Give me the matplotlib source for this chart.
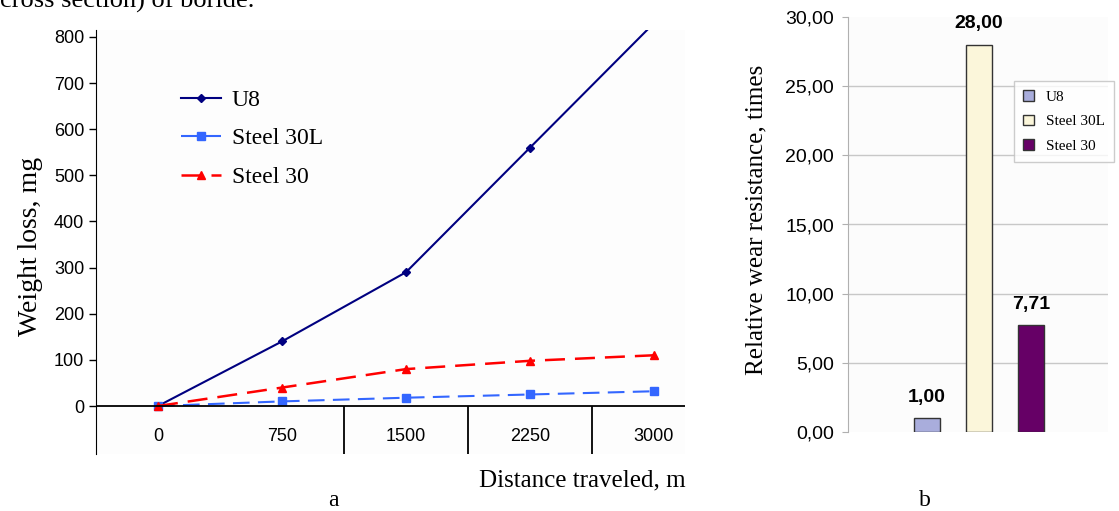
import numpy as np
import matplotlib
matplotlib.use("Agg")
import matplotlib.pyplot as plt

# ---- data ----
distance = ["0", "750", "1500", "2250", "3000"]
u8 = [0, 140, 290, 560, 830]
steel_30l = [0, 10, 18, 25, 32]
steel_30 = [0, 40, 80, 98, 110]

materials = ["U8", "Steel 30L", "Steel 30"]
resistance = [1.00, 28.00, 7.71]
bar_colors = ["#A9ADDC", "#FBF6DA", "#660066"]

SERIF = "Liberation Serif"
SANS = "Liberation Sans"

fig = plt.figure(figsize=(11.19, 5.11), dpi=100)

# clipped caption line from the page above
fig.text(0.0, 1 - 8 / 511, "cross section) of boride.", family=SERIF, fontsize=19,
         ha="left", va="baseline")

# ---- (a) weight loss vs distance ----
ax = fig.add_axes([96 / 1119, 57 / 511, 589 / 1119, 424 / 511])
x = np.arange(len(distance))
ax.plot(x, u8, color="#000080", marker="D", markersize=4, lw=1.5, label="U8")
ax.plot(x, steel_30l, color="#3366FF", marker="s", markersize=6, lw=1.5,
        ls=(0, (8, 4)), label="Steel 30L")
ax.plot(x, steel_30, color="#FF0000", marker="^", markersize=6, lw=1.8,
        ls=(0, (8, 4)), label="Steel 30")

ax.set_xlim(-0.5, 4.25)
ax.set_ylim(-104, 815)
ax.set_yticks(range(0, 801, 100))
ax.set_xticks([])
for s in ["top", "right", "bottom"]:
    ax.spines[s].set_visible(False)
ax.spines["left"].set_bounds(-104, 815)
ax.axhline(0, color="black", lw=1.3)
ax.vlines([1.5, 2.5, 3.5], -104, 0, color="black", lw=1.3)
for i, lab in enumerate(distance):
    ax.text(i, -65, lab, ha="center", va="center", family=SANS, fontsize=13)
ax.tick_params(axis="y", labelsize=13, length=5, width=1)
for t in ax.get_yticklabels():
    t.set_family(SANS)
ax.set_ylabel("Weight loss, mg", family=SERIF, fontsize=20)
ax.yaxis.set_label_coords(-0.09, 0.49)
ax.set_facecolor("#FDFDFD")
ax.legend(loc="upper left", bbox_to_anchor=(0.108, 0.91), frameon=False,
          prop={"family": SERIF, "size": 17}, handlelength=1.7,
          handletextpad=0.45, labelspacing=0.72)

fig.text(686 / 1119, 1 - 480 / 511, "Distance traveled, m", family=SERIF,
         fontsize=18, ha="right", va="center")
fig.text(333 / 1119, 1 - 500 / 511, "a", family=SERIF, fontsize=17, ha="center",
         va="center")

# ---- (b) relative wear resistance ----
bx = fig.add_axes([848 / 1119, 79 / 511, 260 / 1119, 415 / 511])
pos = np.arange(len(materials))
bars = bx.bar(pos, resistance, width=0.5, color=bar_colors, edgecolor="#333333",
              lw=1, label=materials, zorder=3)
for p, v in zip(pos, resistance):
    bx.text(p, v + 0.9, f"{v:.2f}".replace(".", ","), ha="center", va="bottom",
            family=SANS, fontsize=14, fontweight="bold")
bx.set_xlim(-1.52, 3.48)
bx.set_ylim(0, 30)
bx.set_yticks(np.arange(0, 31, 5))
bx.set_yticklabels([f"{v:.2f}".replace(".", ",") for v in np.arange(0, 31, 5)],
                   family=SANS, fontsize=14)
bx.set_xticks([])
for s in ["top", "right", "bottom"]:
    bx.spines[s].set_visible(False)
bx.spines["left"].set_color("#B0B0B0")
bx.tick_params(axis="y", length=4, color="#B0B0B0", pad=6)
for yv in np.arange(5, 30, 5):
    bx.axhline(yv, color="#C8C8C8", lw=1, zorder=0)
bx.set_ylabel("Relative wear resistance, times", family=SERIF, fontsize=18)
bx.yaxis.set_label_coords(-0.31, 0.51)
bx.set_facecolor("#FCFCFC")
fig.legend(bars, materials, loc="upper left",
           bbox_to_anchor=(1014 / 1119, 1 - 81 / 511), frameon=True, fancybox=False,
           edgecolor="#C0C0C0", prop={"family": SERIF, "size": 11},
           handlelength=0.7, handleheight=0.7, labelspacing=0.7, borderpad=0.6,
           handletextpad=0.8, borderaxespad=0)

fig.text(925 / 1119, 1 - 500 / 511, "b", family=SERIF, fontsize=17, ha="center",
         va="center")

fig.savefig("out.png", dpi=100)
